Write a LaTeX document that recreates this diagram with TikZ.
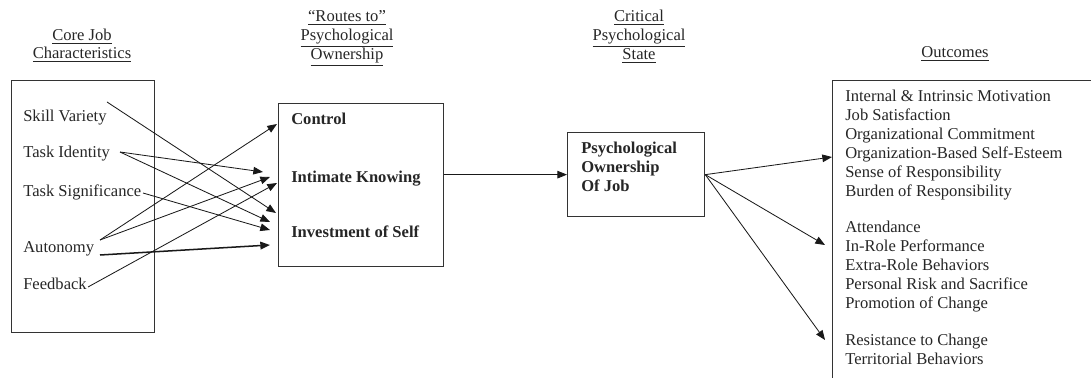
\documentclass[tikz,border=0pt]{standalone}
\usepackage{fontspec}
\setmainfont{Liberation Serif}
\usetikzlibrary{arrows.meta}
\begin{document}
\begin{tikzpicture}[x=0.7246pt,y=-0.7246pt,
  txt/.style={anchor=base west, inner sep=0pt, font=\fontsize{12}{13.8}\selectfont, text=black!85},
  btxt/.style={anchor=base west, inner sep=0pt, font=\fontsize{12}{13.8}\selectfont\bfseries, text=black!85},
  hdr/.style={anchor=base, inner sep=0pt, font=\fontsize{12}{13.8}\selectfont, text=black!85},
  box/.style={draw=black!80, line width=0.9pt, inner sep=0pt, anchor=north west},
  arr/.style={-{Triangle[length=7pt,width=5.5pt]}, line width=0.6pt, draw=black!90},
]
\useasboundingbox (0,0) rectangle (1091,378);
\clip (0,0) rectangle (1091,378);

% headers
\node[hdr] (h1a) at (82,41) {\underline{Core Job}};
\node[hdr] (h1b) at (82,59) {\underline{Characteristics}};
\node[hdr] (h2a) at (347,22) {\underline{``Routes to''}};
\node[hdr] (h2b) at (347,41) {\underline{Psychological}};
\node[hdr] (h2c) at (347,60) {\underline{Ownership}};
\node[hdr] (h3a) at (639,22) {\underline{Critical}};
\node[hdr] (h3b) at (639,41) {\underline{Psychological}};
\node[hdr] (h3c) at (639,60) {\underline{State}};
\node[hdr] (h4) at (955,58) {\underline{Outcomes}};

% boxes
\node[box, minimum width=103.6pt, minimum height=182.6pt] (cjc) at (11,80) {};
\node[box, minimum width=119.6pt, minimum height=118.1pt] (routes) at (278,103) {};
\node[box, minimum width=99.3pt, minimum height=60.9pt] (psych) at (567,132) {};
\node[box, minimum width=220pt, minimum height=240pt] (out) at (832,80) {};

% core job characteristics
\node[txt] (sv) at (23,122) {Skill Variety};
\node[txt] (ti) at (23,158) {Task Identity};
\node[txt] (ts) at (23,197) {Task Significance};
\node[txt] (au) at (23,253) {Autonomy};
\node[txt] (fb) at (23,290) {Feedback};

% routes
\node[btxt] (rc) at (291,125) {Control};
\node[btxt] (rk) at (291,183) {Intimate Knowing};
\node[btxt] (ri) at (291,238) {Investment of Self};

% psychological state
\node[btxt] (p1) at (581,154) {Psychological};
\node[btxt] (p2) at (581,173) {Ownership};
\node[btxt] (p3) at (581,192) {Of Job};

% outcomes
\foreach \t [count=\i from 0] in {Internal \& Intrinsic Motivation, Job Satisfaction, Organizational Commitment, Organization-Based Self-Esteem, Sense of Responsibility, Burden of Responsibility}
  \node[txt] (oa\i) at (845,102+19*\i) {\t};
\foreach \t [count=\i from 0] in {Attendance, In-Role Performance, Extra-Role Behaviors, Personal Risk and Sacrifice, Promotion of Change}
  \node[txt] (ob\i) at (845,233+19*\i) {\t};
\foreach \t [count=\i from 0] in {Resistance to Change, Territorial Behaviors}
  \node[txt] (oc\i) at (845,346+19*\i) {\t};

% connector end points
\coordinate (svs) at (107,102);
\coordinate (tis) at (120,152);
\coordinate (tss) at (143,193);
\coordinate (aus) at (100,240);
\coordinate (aut) at (100,255);
\coordinate (fbs) at (88,287);
\coordinate (e1) at (277,124);
\coordinate (e2) at (263,172);
\coordinate (e3) at (270,177);
\coordinate (e4) at (277,183);
\coordinate (e5) at (276,213);
\coordinate (e6) at (270,222);
\coordinate (e7) at (270,230);
\coordinate (e8) at (270,245);
\coordinate (o1) at (832,157);
\coordinate (o2) at (825,245);
\coordinate (o3) at (825,340);

\draw[arr] (svs) -- (e5);
\draw[arr] (tis) -- (e2);
\draw[arr] (tis) -- (e6);
\draw[arr] (tss) -- (e7);
\draw[arr] (aus) -- (e1);
\draw[arr] (aus) -- (e3);
\draw[arr, line width=1.1pt] (aut) -- (e8);
\draw[arr] (fbs) -- (e4);

\draw[arr] (routes.east |- psych.west) -- (psych.west);
\draw[arr] (psych.east) -- (o1);
\draw[arr] (psych.east) -- (o2);
\draw[arr] (psych.east) -- (o3);
\end{tikzpicture}
\end{document}
